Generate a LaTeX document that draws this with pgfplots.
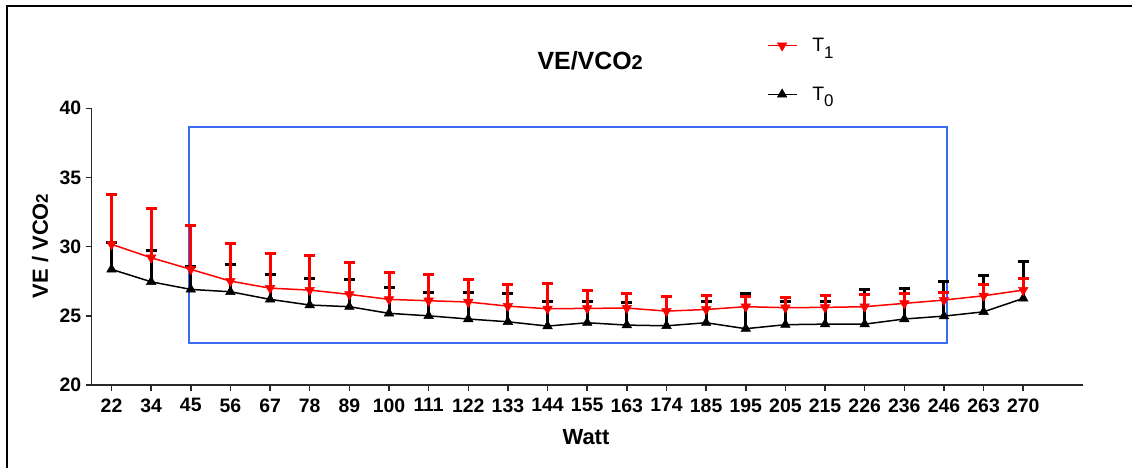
\documentclass[border=0pt]{standalone}
\usepackage{pgfplots}
\pgfplotsset{compat=1.18}
\usepackage{pgfplotstable}
\usepackage{fontspec}
\setmainfont{Liberation Sans}
\definecolor{boxblue}{RGB}{59,108,240}
\definecolor{tred}{RGB}{255,0,0}
\definecolor{axgray}{RGB}{40,40,40}

\pgfplotstableread{
x m e
0 28.36 1.92
1 27.46 2.29
2 26.91 1.69
3 26.74 2.00
4 26.19 1.81
5 25.78 1.90
6 25.66 2.00
7 25.18 1.88
8 25.00 1.70
9 24.77 1.93
10 24.57 2.05
11 24.26 1.76
12 24.50 1.52
13 24.33 1.64
14 24.28 2.14
15 24.50 1.50
16 24.07 2.53
17 24.36 1.64
18 24.40 1.60
19 24.40 2.53
20 24.77 2.23
21 24.98 2.53
22 25.29 2.61
23 26.26 2.65
}\tzero

\pgfplotstableread{
x m e
0 30.17 3.63
1 29.20 3.57
2 28.36 3.15
3 27.51 2.70
4 27.00 2.52
5 26.86 2.51
6 26.55 2.34
7 26.19 1.97
8 26.09 1.91
9 26.00 1.66
10 25.70 1.55
11 25.51 1.81
12 25.54 1.27
13 25.56 1.09
14 25.34 1.03
15 25.46 1.04
16 25.66 0.74
17 25.59 0.74
18 25.61 0.89
19 25.66 0.89
20 25.90 0.72
21 26.14 0.56
22 26.45 0.82
23 26.86 0.85
}\tone

\begin{document}
\begin{tikzpicture}
\path[use as bounding box] (0,0) rectangle (1132bp,-468bp);
\draw[line width=2bp] (7bp,-468bp) -- (7bp,-6bp) -- (1132bp,-6bp);
\begin{axis}[
  at={(91.7bp,-385bp)}, anchor=south west,
  scale only axis, width=991bp, height=276.7bp,
  xmin=-0.5, xmax=24.5, ymin=20, ymax=40,
  axis lines=left,
  axis line style={-, line width=1.5bp, axgray},
  xtick={0,...,23},
  xticklabels={22,34,45,56,67,78,89,100,111,122,133,144,155,163,174,185,195,205,215,226,236,246,263,270},
  ytick={20,25,30,35,40},
  tick align=outside, major tick length=6bp,
  tick style={line width=1.5bp, axgray},
  ticklabel style={font=\bfseries\fontsize{19.5}{19.5}\selectfont},
  xticklabel style={yshift=-4bp},
  yticklabel style={xshift=-1bp},
  /pgf/number format/assume math mode=true,
  xlabel={\bfseries\fontsize{22}{22}\selectfont Watt},
  xlabel style={at={(axis description cs:0.4988,-0.2168)}, anchor=base},
  ylabel={\bfseries\fontsize{22}{22}\selectfont VE / VCO{\fontsize{17}{17}\selectfont 2}},
  ylabel style={at={(axis description cs:-0.0441,0.503)}, anchor=base, rotate=0},
  title={\bfseries\fontsize{25}{25}\selectfont VE/VCO{\fontsize{20}{20}\selectfont 2}},
  title style={at={(axis description cs:0.503,1.1203)}, anchor=base},
  legend style={at={(axis description cs:0.6811,1.1384)}, anchor=west, draw=none, fill=none,
     inner sep=0pt, row sep=34bp, column sep=15bp,
     font=\fontsize{19.5}{20}\selectfont, nodes={inner sep=0pt}},
  legend image code/.code={\draw[mark repeat=2,mark phase=2] plot coordinates {(0bp,0bp) (14.5bp,0bp) (29bp,0bp)};},
  reverse legend,
  clip=false,
]
\draw[boxblue, line width=2bp] (axis cs:1.95,23.03) rectangle (axis cs:21.07,38.67);
\addplot[black, line width=1.5bp, mark=triangle*, mark size=5.5bp,
  mark options={solid, line width=0.5bp},
  error bars/.cd, y dir=plus, y explicit,
  error bar style={black, line width=3bp},
  error mark options={black, rotate=90, line width=3bp, mark size=5.5bp}]
  table[x=x, y=m, y error=e] {\tzero};
\addlegendentry{T\raisebox{-6.5bp}{\fontsize{17}{17}\selectfont 0}}
\addplot[tred, line width=1.5bp, mark=triangle*, mark size=5.5bp,
  mark options={solid, rotate=180, line width=0.5bp},
  error bars/.cd, y dir=plus, y explicit,
  error bar style={tred, line width=3bp},
  error mark options={tred, rotate=90, line width=3bp, mark size=5.5bp}]
  table[x=x, y=m, y error=e] {\tone};
\addlegendentry{T\raisebox{-6.5bp}{\fontsize{17}{17}\selectfont 1}}
\end{axis}
\end{tikzpicture}
\end{document}
